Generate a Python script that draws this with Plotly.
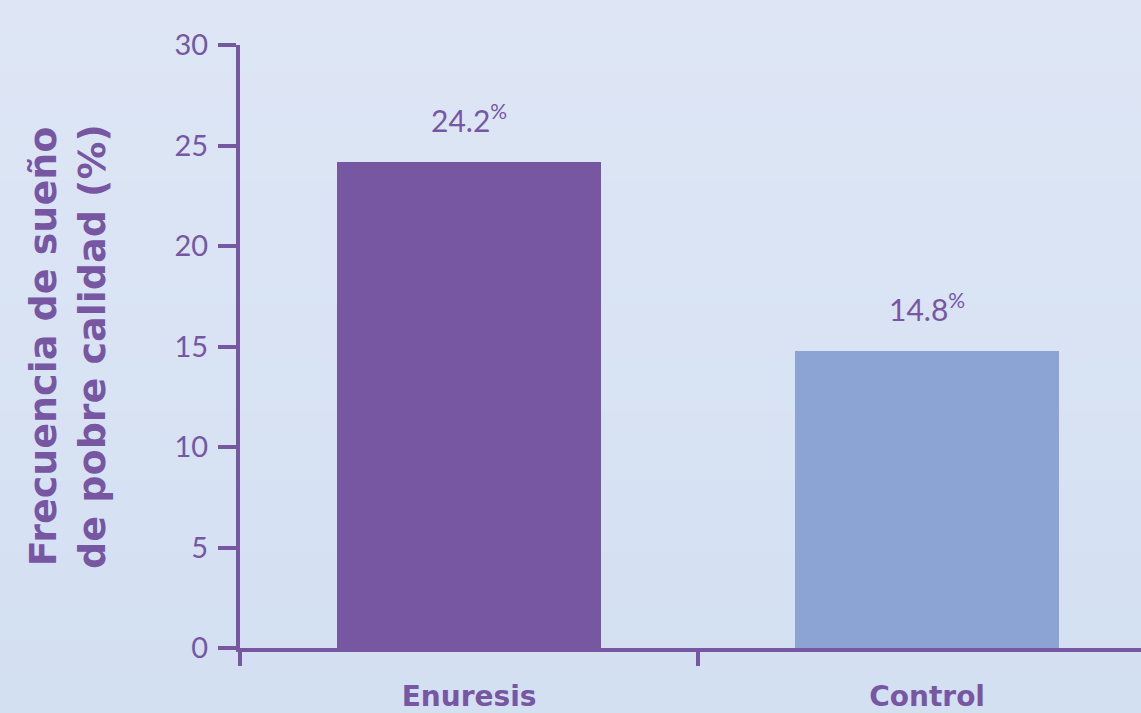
import plotly.graph_objects as go

categories = ["Enuresis", "Control"]
values = [24.2, 14.8]
value_labels = ["24.2", "14.8"]
bar_colors = ["#7757a2", "#8ca4d4"]
y_ticks = [0, 5, 10, 15, 20, 25, 30]
y_title = "Frecuencia de sueño<br>de pobre calidad (%)"

purple = "#7757a2"
bg_top = (0xde, 0xe6, 0xf5)
bg_bot = (0xd3, 0xe0, 0xf2)

fig = go.Figure()
fig.add_trace(go.Bar(
    x=categories, y=values, marker=dict(color=bar_colors, line=dict(width=0)),
    width=0.576, hoverinfo="skip"
))

for c, v, t in zip(categories, values, value_labels):
    fig.add_annotation(
        x=c, y=v, text=f"{t}<sup>%</sup>", showarrow=False,
        yanchor="bottom", yshift=22,
        font=dict(family="Lato", size=30, color=purple)
    )

# vertical background gradient (bands in paper coords covering whole figure)
H, T, B, L, W = 713, 45, 65, 240, 901
ph = H - T - B
y0p, y1p = -B / ph, 1 + T / ph
x0p = -L / W
n = 40
for i in range(n):
    f = i / (n - 1)
    col = tuple(round(bg_bot[k] + (bg_top[k] - bg_bot[k]) * f) for k in range(3))
    ya = y0p + (y1p - y0p) * i / n
    yb = y0p + (y1p - y0p) * (i + 1) / n
    fig.add_shape(type="rect", xref="paper", yref="paper", x0=x0p, x1=1.01,
                  y0=ya, y1=yb + 0.002, layer="below", line=dict(width=0),
                  fillcolor="rgb(%d,%d,%d)" % col)

fig.update_layout(
    width=1141, height=713,
    paper_bgcolor="#d9e3f3", plot_bgcolor="rgba(0,0,0,0)",
    margin=dict(l=240, r=0, t=45, b=65),
    showlegend=False,
    bargap=0,
    xaxis=dict(
        type="category", range=[-0.5, 1.467],
        showline=True, linecolor=purple, linewidth=4,
        ticks="outside", tickson="boundaries", ticklen=14, tickwidth=4, tickcolor=purple,
        showgrid=False, zeroline=False,
        tickfont=dict(family="DejaVu Sans", size=28, color=purple, weight="bold"),
        ticklabelstandoff=20,
    ),
    yaxis=dict(
        range=[0, 30], tickvals=y_ticks,
        showline=True, linecolor=purple, linewidth=4,
        ticks="outside", ticklen=18, tickwidth=4, tickcolor=purple,
        showgrid=False, zeroline=False,
        tickfont=dict(family="Lato", size=29, color=purple),
        ticklabelstandoff=4,
        title=dict(text=y_title, standoff=58,
                   font=dict(family="DejaVu Sans", size=38, color=purple, weight="bold")),
    ),
)

fig.write_html("out.html", config={"displayModeBar": False},
               post_script="document.body.style.margin='0';")
